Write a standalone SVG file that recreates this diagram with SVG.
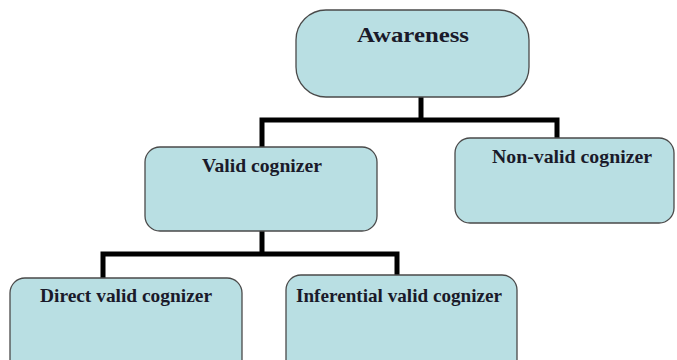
<svg xmlns="http://www.w3.org/2000/svg" width="677" height="360" viewBox="0 0 677 360">
<style>
.box{fill:#b9dfe3;stroke:#4a4a4a;stroke-width:1.3}
.lbl{font-family:"Liberation Serif","Times New Roman",serif;font-weight:bold;fill:#1a1a2a;text-anchor:middle}
.con{fill:none;stroke:#000;stroke-width:5;stroke-linejoin:miter}
</style>
<rect width="677" height="360" fill="#fff"/>
<g id="connectors">
<polyline class="con" points="421,97 421,120"/>
<polyline class="con" points="262,147 262,120 557,120 557,138"/>
<polyline class="con" points="262,231 262,254"/>
<polyline class="con" points="103,278 103,254 397,254 397,275"/>
</g>
<g id="awareness">
<rect class="box" x="296" y="10" width="233" height="87" rx="30" ry="30"/>
<text class="lbl" x="413" y="42" font-size="22" textLength="112" lengthAdjust="spacingAndGlyphs">Awareness</text>
</g>
<g id="valid">
<rect class="box" x="145" y="147" width="232" height="84" rx="15" ry="15"/>
<text class="lbl" x="262" y="172" font-size="19.5" textLength="120" lengthAdjust="spacingAndGlyphs">Valid cognizer</text>
</g>
<g id="nonvalid">
<rect class="box" x="455" y="138" width="219" height="85" rx="15" ry="15"/>
<text class="lbl" x="572" y="163" font-size="19.5" textLength="160" lengthAdjust="spacingAndGlyphs">Non-valid cognizer</text>
</g>
<g id="direct">
<rect class="box" x="10" y="278" width="232" height="100" rx="15" ry="15"/>
<text class="lbl" x="126" y="302" font-size="19.5" textLength="172" lengthAdjust="spacingAndGlyphs">Direct valid cognizer</text>
</g>
<g id="inferential">
<rect class="box" x="286" y="275" width="231" height="100" rx="15" ry="15"/>
<text class="lbl" x="399" y="302" font-size="19.5" textLength="206" lengthAdjust="spacingAndGlyphs">Inferential valid cognizer</text>
</g>
</svg>
